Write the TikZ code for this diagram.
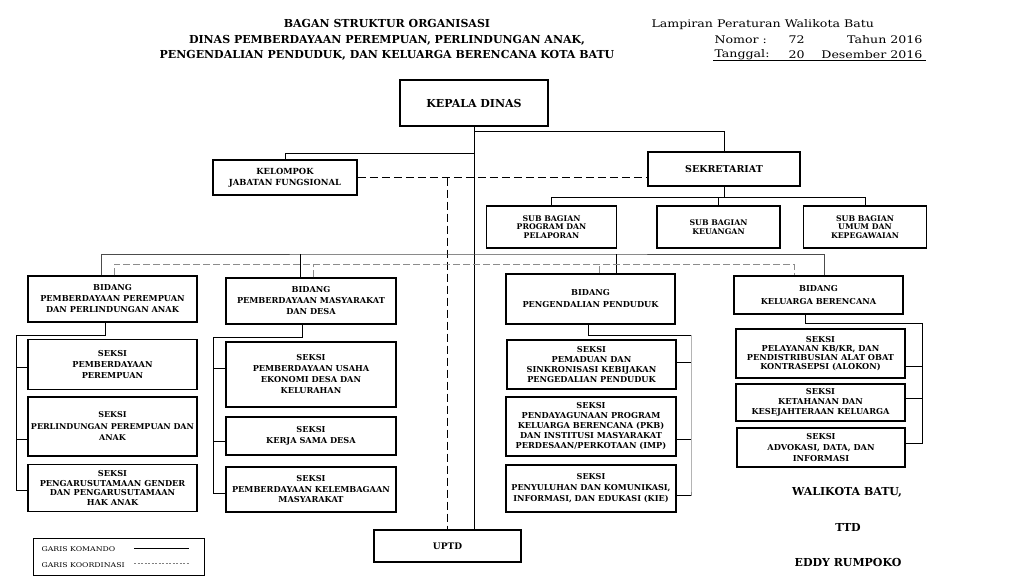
\documentclass[tikz,border=0pt]{standalone}
\usepackage{fontspec}
\setmainfont{DejaVu Serif}
\newfontfamily\lebar{DejaVu Serif}[FakeStretch=1.2]

\begin{document}
\begin{tikzpicture}[x=1pt,y=-1pt]
\tikzstyle{kotak} = [draw, line width=1.5pt, align=center, inner sep=1pt, font=\fontsize{8.2}{10}\selectfont\bfseries]
\tikzstyle{garis} = [line width=0.7pt]
\tikzstyle{koord} = [line width=0.7pt, dash pattern=on 8pt off 4pt]
\tikzstyle{koordabu} = [line width=0.8pt, black!45, dash pattern=on 7pt off 3pt]
\tikzstyle{kepala} = [font=\lebar\fontsize{10.5}{12}\selectfont]
\tikzstyle{ttd} = [font=\fontsize{11}{12}\selectfont\bfseries]
\useasboundingbox (0,0) rectangle (1025,584);

% judul
\node[align=center, font=\fontsize{11}{15.5}\selectfont\bfseries] (judul) at (387,40)
    {BAGAN STRUKTUR ORGANISASI\\
     DINAS PEMBERDAYAAN PEREMPUAN, PERLINDUNGAN ANAK,\\
     PENGENDALIAN PENDUDUK, DAN KELUARGA BERENCANA KOTA BATU};
\node[kepala, anchor=west] (lamp) at (648,25) {Lampiran Peraturan Walikota Batu};
\node[kepala, anchor=west] (nomor) at (711,40) {Nomor :};
\node[kepala, anchor=west] (nomorisi) at (785,40) {72};
\node[kepala, anchor=east] (tahun) at (926,40) {Tahun 2016};
\node[kepala, anchor=west] (tgl) at (711,55) {Tanggal:};
\node[kepala, anchor=west] (tglisi) at (785,55) {20};
\node[kepala, anchor=east] (bulan) at (926,55) {Desember 2016};
\draw[line width=0.6pt] (tgl.base west) ++(2,2) coordinate (ga) -- (ga -| bulan.east);

% pimpinan dan sekretariat
\node[kotak, minimum width=148pt, minimum height=46pt, font=\fontsize{11}{12}\selectfont\bfseries] (kd) at (474,103) {KEPALA DINAS};
\node[kotak, minimum width=144pt, minimum height=35pt, font=\fontsize{8.4}{11}\selectfont\bfseries] (kjf) at (285,177.5) {KELOMPOK\\JABATAN FUNGSIONAL};
\node[kotak, minimum width=152pt, minimum height=34pt, font=\fontsize{9.5}{10}\selectfont\bfseries] (sek) at (724,169) {SEKRETARIAT};
\node[kotak, minimum width=130pt, minimum height=42pt, font=\fontsize{7.8}{8.5}\selectfont\bfseries] (sb1) at (551.5,227) {SUB BAGIAN\\PROGRAM DAN\\PELAPORAN};
\node[kotak, minimum width=123pt, minimum height=42pt, font=\fontsize{7.8}{8.5}\selectfont\bfseries] (sb2) at (718.5,227) {SUB BAGIAN\\KEUANGAN};
\node[kotak, minimum width=123pt, minimum height=42pt, font=\fontsize{7.8}{8.5}\selectfont\bfseries] (sb3) at (865,227) {SUB BAGIAN\\UMUM DAN\\KEPEGAWAIAN};
\node[kotak, minimum width=147pt, minimum height=32pt, font=\fontsize{9}{10}\selectfont\bfseries] (uptd) at (447.5,546) {UPTD};

% bidang
\node[kotak, minimum width=169pt, minimum height=46pt, font=\fontsize{8.2}{11}\selectfont\bfseries] (b1) at (112.5,299) {BIDANG\\PEMBERDAYAAN PEREMPUAN\\DAN PERLINDUNGAN ANAK};
\node[kotak, minimum width=170pt, minimum height=46pt, font=\fontsize{8.2}{11}\selectfont\bfseries] (b2) at (311,301) {BIDANG\\PEMBERDAYAAN MASYARAKAT\\DAN DESA};
\node[kotak, minimum width=169pt, minimum height=50pt, font=\fontsize{8.2}{12}\selectfont\bfseries] (b3) at (590.5,299) {BIDANG\\PENGENDALIAN PENDUDUK};
\node[kotak, minimum width=169pt, minimum height=38pt, font=\fontsize{8.2}{13}\selectfont\bfseries] (b4) at (818.5,295) {BIDANG\\KELUARGA BERENCANA};

% seksi
\node[kotak, minimum width=169pt, minimum height=50pt, font=\fontsize{8.2}{11}\selectfont\bfseries] (s11) at (112.5,364.5) {SEKSI\\PEMBERDAYAAN\\PEREMPUAN};
\node[kotak, minimum width=169pt, minimum height=59pt, font=\fontsize{8}{11.5}\selectfont\bfseries] (s12) at (112.5,426.5) {SEKSI\\PERLINDUNGAN PEREMPUAN DAN\\ANAK};
\node[kotak, minimum width=169pt, minimum height=47pt, font=\fontsize{8.2}{9.7}\selectfont\bfseries] (s13) at (112.5,488) {SEKSI\\PENGARUSUTAMAAN GENDER\\DAN PENGARUSUTAMAAN\\HAK ANAK};
\node[kotak, minimum width=170pt, minimum height=65pt, font=\fontsize{8.2}{11}\selectfont\bfseries] (s21) at (311,374.5) {SEKSI\\PEMBERDAYAAN USAHA\\EKONOMI DESA DAN\\KELURAHAN};
\node[kotak, minimum width=170pt, minimum height=38pt, font=\fontsize{8.2}{11.5}\selectfont\bfseries] (s22) at (311,436) {SEKSI\\KERJA SAMA DESA};
\node[kotak, minimum width=170pt, minimum height=45pt, font=\fontsize{8.2}{10.5}\selectfont\bfseries] (s23) at (311,489.5) {SEKSI\\PEMBERDAYAAN KELEMBAGAAN\\MASYARAKAT};
\node[kotak, minimum width=169pt, minimum height=49pt, font=\fontsize{8.2}{9.7}\selectfont\bfseries] (s31) at (591.5,364.5) {SEKSI\\PEMADUAN DAN\\SINKRONISASI KEBIJAKAN\\PENGEDALIAN PENDUDUK};
\node[kotak, minimum width=170pt, minimum height=59pt, font=\fontsize{8.2}{10}\selectfont\bfseries] (s32) at (591,426.5) {SEKSI\\PENDAYAGUNAAN PROGRAM\\KELUARGA BERENCANA (PKB)\\DAN INSTITUSI MASYARAKAT\\PERDESAAN/PERKOTAAN (IMP)};
\node[kotak, minimum width=170pt, minimum height=47pt, font=\fontsize{8.1}{11}\selectfont\bfseries] (s33) at (591,488.5) {SEKSI\\PENYULUHAN DAN KOMUNIKASI,\\INFORMASI, DAN EDUKASI (KIE)};
\node[kotak, minimum width=169pt, minimum height=49pt, font=\fontsize{8.2}{9}\selectfont\bfseries] (s41) at (820.5,353.5) {SEKSI\\PELAYANAN KB/KR, DAN\\PENDISTRIBUSIAN ALAT OBAT\\KONTRASEPSI (ALOKON)};
\node[kotak, minimum width=169pt, minimum height=37pt, font=\fontsize{8.2}{10}\selectfont\bfseries] (s42) at (820.5,402.5) {SEKSI\\KETAHANAN DAN\\KESEJAHTERAAN KELUARGA};
\node[kotak, minimum width=168pt, minimum height=39pt, font=\fontsize{8.2}{11}\selectfont\bfseries] (s43) at (821,447.5) {SEKSI\\ADVOKASI, DATA, DAN\\INFORMASI};

% garis komando atas
\draw[garis] (kd.south) -- (kd.south |- uptd.north);
\draw[garis] (kd.south) ++(0,5) -| (sek.north);
\draw[garis] (kd.south) ++(0,27) -| (kjf.north);
\draw[garis] (sek.south) -- ++(0,11) coordinate (sbj);
\draw[garis] (sb1.north) |- (sbj) -| (sb3.north);
\draw[garis] (sb2.north) -- (sb2.north |- sbj);

% garis koordinasi atas
\draw[koord] (kjf.east) -- (kjf.east -| sek.west);
\draw[koord] (kjf.east -| uptd.north) -- (uptd.north);

% garis ke bidang
\coordinate (bbar) at (474,254);
\coordinate (cbar) at (448,264);
\coordinate (b1k) at ([xshift=-11pt]b1.north);
\coordinate (b2k) at ([xshift=-11pt]b2.north);
\coordinate (b3k) at ([xshift=26pt]b3.north);
\coordinate (b4k) at ([xshift=6pt]b4.north);
\coordinate (b1c) at ([xshift=2pt]b1.north);
\coordinate (b2c) at ([xshift=2pt]b2.north);
\coordinate (b3c) at ([xshift=9pt]b3.north);
\coordinate (b4c) at ([xshift=-24pt]b4.north);
\draw[garis, black!70] (b1k) |- (bbar) -| (b4k);
\draw[garis] (b2k) -- (b2k |- bbar);
\draw[garis] (b3k) -- (b3k |- bbar);
\draw[koordabu] (b1c) |- (cbar) -| (b4c);
\draw[koordabu] (b2c) -- (b2c |- cbar);
\draw[koordabu] (b3c) -- (b3c |- cbar);

% seksi bidang 1
\coordinate (t1) at (16,335);
\draw[garis] ([xshift=-7pt]b1.south) |- (t1);
\draw[garis] (t1) |- ([yshift=-2.5pt]s11.west);
\draw[garis] (t1) |- ([yshift=-12.5pt]s12.west);
\draw[garis] (t1) |- ([yshift=-2pt]s13.west);
% seksi bidang 2
\coordinate (t2) at (213,337);
\draw[garis] ([xshift=-9pt]b2.south) |- (t2);
\draw[garis] (t2) |- ([yshift=6.5pt]s21.west);
\draw[garis] (t2) |- ([yshift=-5pt]s22.west);
\draw[garis] (t2) |- ([yshift=-3.5pt]s23.west);
% seksi bidang 3
\coordinate (t3) at (691,335);
\draw[garis] ([xshift=-2.5pt]b3.south) |- (t3);
\draw[garis, black!45] (t3) -- (t3 |- s33.east) -- ++(0,7);
\draw[garis] ([yshift=2.5pt]s31.east) -- ([yshift=2.5pt]s31.east -| t3);
\draw[garis] ([yshift=-12.5pt]s32.east) -- ([yshift=-12.5pt]s32.east -| t3);
\draw[garis] ([yshift=-6.5pt]s33.east) -- ([yshift=-6.5pt]s33.east -| t3);
% seksi bidang 4
\coordinate (t4) at (922,323);
\draw[garis] ([xshift=-13.5pt]b4.south) |- (t4);
\draw[garis] (t4) |- ([yshift=-12.5pt]s41.east);
\draw[garis] (t4) |- ([yshift=4.5pt]s42.east);
\draw[garis] (t4) |- ([yshift=4.5pt]s43.east);

% keterangan
\node[draw, line width=0.8pt, minimum width=171pt, minimum height=37pt] (ket) at (118.5,556.5) {};
\node[anchor=west, font=\lebar\fontsize{6.5}{7}\selectfont] (kom) at (38,549) {GARIS KOMANDO};
\node[anchor=west, font=\lebar\fontsize{6.5}{7}\selectfont] (kor) at (38,565) {GARIS KOORDINASI};
\coordinate (kom1) at (134,548);
\coordinate (kom2) at (189,548);
\coordinate (kor1) at (134,563);
\coordinate (kor2) at (189,563);
\draw[line width=0.6pt] (kom1) -- (kom2);
\draw[line width=0.6pt, black!50, dash pattern=on 2pt off 1.5pt] (kor1) -- (kor2);

% tanda tangan
\node[ttd] (wali) at (847,492) {WALIKOTA BATU,};
\node[ttd] (tanda) at (848,527) {TTD};
\node[ttd] (nama) at (848,562) {EDDY RUMPOKO};
\end{tikzpicture}
\end{document}
